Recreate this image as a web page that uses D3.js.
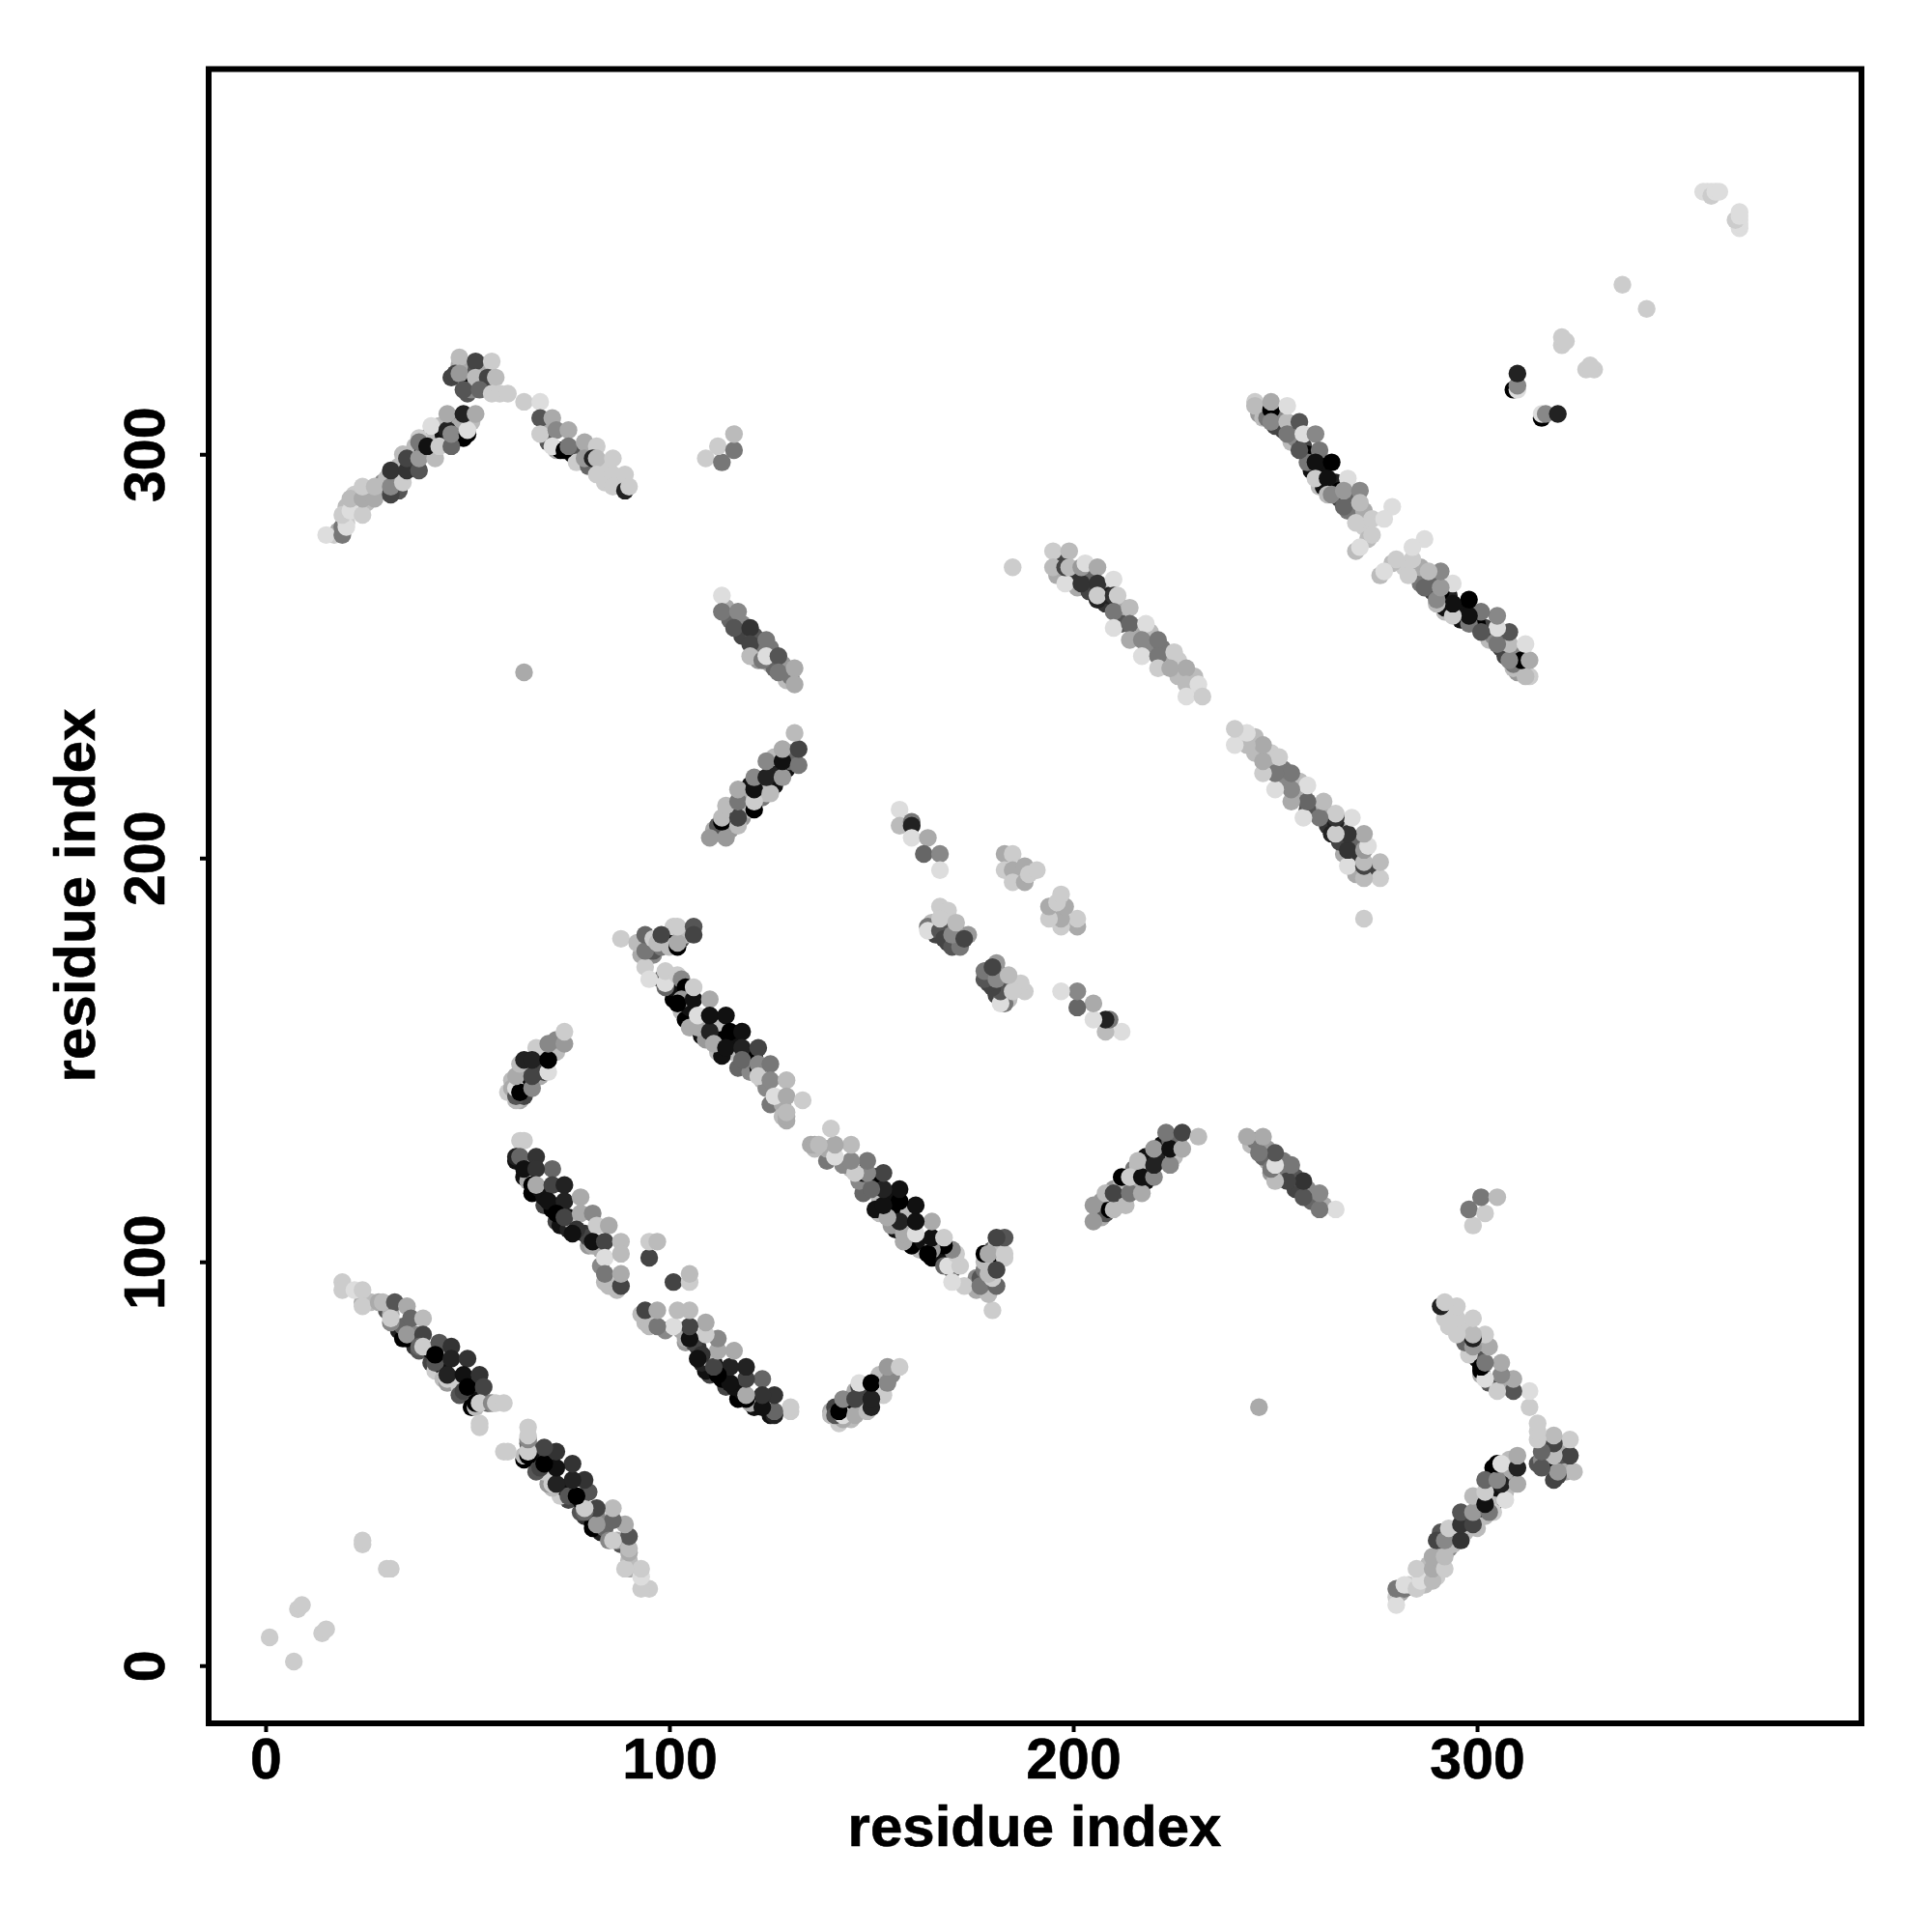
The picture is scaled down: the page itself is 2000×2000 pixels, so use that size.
<!DOCTYPE html>
<html><head><meta charset="utf-8"><script src="https://cdn.jsdelivr.net/npm/d3@7"></script>
<style>html,body{margin:0;background:#fff}</style></head><body><div id="c"></div>
<script>
// contact pairs [residue i, residue j, score 0-13]; the map is symmetric, each pair shows at (i,j) and (j,i)
const nearDiagonal=[[1,7,1],[8,14,1],[9,15,1],[24,30,1],[24,31,1],[321,327,1],[321,329,1],[322,328,1],[336,342,1],[356,365,0],[357,365,0],[358,365,0],[358,364,1],[359,365,0],[360,365,0]];
const strayPairs=[[64,246,3],[185,272,1]];
// partly hidden pairs that only show as rims behind the front dots
const hiddenA=[[24,90,3],[26,90,2],[30,88,8],[31,87,3],[33,83,11],[34,81,13],[34,84,7],[37,79,10],[37,82,5],[38,78,8],[41,75,9],[41,78,12],[42,73,1],[44,74,12],[44,71,2],[45,70,4],[48,71,9],[48,69,1],[48,67,8],[52,68,12],[52,70,9],[51,64,13],[52,64,2],[55,65,7]];
const hiddenC=[[62,125,12],[64,121,12],[65,120,3],[66,117,13],[68,118,12],[69,114,9],[69,116,12],[71,113,13],[72,110,9],[73,109,12],[75,108,11],[75,111,12],[76,110,2],[79,107,10],[80,104,4],[80,106,9],[83,103,3],[83,99,5],[85,94,2]];
const hiddenE=[[98,170,8],[101,165,13],[101,168,12],[103,162,2],[104,160,13],[105,163,12],[105,158,3],[108,156,12],[109,159,12],[109,155,4],[112,159,2],[112,152,2],[113,155,13],[116,152,2],[113,151,12],[116,155,12],[117,148,7],[120,147,5],[121,151,13],[123,145,2],[124,143,5],[125,139,6],[128,139,3],[128,136,2],[129,135,3]];
const hiddenF=[[95,178,5],[93,176,3],[96,176,5],[96,177,8],[98,178,6],[100,180,13],[100,178,2],[101,183,1],[103,180,8],[104,181,2]];
const hiddenD=[[63,140,3],[62,140,2],[64,141,9],[65,144,5],[64,145,12],[65,148,7],[68,146,3],[68,150,12],[69,147,9],[72,152,2],[72,155,5],[61,145,2]];
const hiddenG=[[111,207,3],[113,206,2],[112,208,8],[114,209,12],[115,207,4],[115,211,9],[116,212,13],[118,210,4],[119,213,13],[120,212,2],[120,218,12],[122,216,13],[122,218,5],[123,215,6],[126,218,12],[126,221,11],[126,225,2],[129,222,12],[130,226,4],[130,224,7],[118,215,3],[124,216,2]];
const hiddenH=[[114,262,3],[115,259,7],[118,258,5],[118,255,9],[121,255,8],[122,251,6],[125,252,6],[125,248,3],[128,248,4],[129,244,2],[130,245,6],[126,247,7],[122,249,4]];
const hiddenJ=[[166,181,9],[168,184,4],[169,182,7],[171,180,6],[172,181,8],[174,181,4],[165,184,2]];
const hiddenK=[[246,310,4],[247,309,2],[248,309,6],[250,307,9],[251,310,5],[252,306,9],[254,303,2],[255,304,5],[257,302,9],[258,300,13],[259,296,12],[261,296,10],[262,297,12],[258,298,6],[261,292,2],[262,292,12],[265,293,11],[266,289,9],[269,289,7],[266,291,13],[268,286,6],[272,286,3],[272,282,1],[273,279,2],[270,276,2]];
const hiddenN=[[196,270,3],[197,273,9],[199,270,6],[200,270,10],[201,267,3],[204,270,7],[204,266,9],[207,267,4],[208,266,2],[208,263,10],[209,265,11],[212,262,3],[212,258,8],[215,255,9],[216,257,3],[219,253,5],[219,256,2],[222,252,6],[223,248,3],[226,249,1],[226,245,2],[230,245,2],[229,242,1]];
const hiddenP=[[70,306,3],[70,303,8],[72,301,3],[73,301,13],[76,300,12],[77,300,8],[77,298,1],[80,301,3],[80,297,7],[83,297,1],[84,293,1],[88,293,1]];
const hiddenL=[[17,280,1],[18,281,3],[19,282,6],[20,283,1],[20,287,2],[22,290,1],[25,288,2],[28,291,2],[29,293,5],[30,294,2],[33,291,8],[33,294,8],[33,297,2],[36,298,8],[37,300,3],[37,302,2],[39,301,13],[40,304,12],[41,303,7],[42,303,12],[42,305,2],[43,307,2],[44,303,4],[44,305,12],[47,307,9],[47,304,13],[48,307,3],[49,304,13],[51,308,2],[46,319,9],[50,321,8],[50,318,13],[54,321,4],[54,322,3],[55,317,9],[50,315,8],[51,316,5],[48,322,3]];
const blockA=[[19,95,1],[19,93,1],[22,93,0],[24,93,1],[24,89,1],[28,90,3],[29,90,2],[32,90,8],[35,89,3],[31,85,5],[31,86,1],[36,86,7],[39,86,2],[35,81,13],[35,82,4],[39,82,9],[38,79,7],[39,79,1],[43,80,8],[46,79,10],[42,75,8],[42,77,13],[46,76,11],[45,71,1],[45,72,11],[50,76,10],[49,72,12],[49,68,9],[50,69,13],[53,72,10],[54,69,9],[52,65,13],[53,65,1],[56,65,5],[57,65,1],[59,65,1],[53,60,1],[53,59,1]];
const blockC=[[63,130,1],[64,130,1],[62,126,11],[63,126,7],[67,126,10],[71,123,7],[64,123,12],[67,123,10],[66,119,13],[67,119,3],[71,119,9],[74,119,11],[70,115,12],[74,115,11],[78,116,3],[72,112,13],[74,111,9],[78,112,3],[81,112,5],[77,108,10],[76,107,12],[82,109,1],[85,109,3],[81,104,3],[81,105,12],[84,105,9],[88,105,2],[84,101,0],[88,102,2],[84,95,2],[84,97,6],[87,93,2],[88,94,9],[88,97,3],[95,101,9],[95,105,1],[97,105,2]];
const blockD=[[60,142,1],[61,143,3],[62,141,8],[62,143,0],[63,142,13],[62,146,3],[63,149,2],[64,150,11],[66,143,5],[66,146,9],[67,153,1],[66,150,11],[70,147,0],[70,150,13],[70,154,5],[74,154,4],[74,157,1]];
const blockE=[[94,173,1],[95,170,0],[99,168,7],[99,169,0],[99,172,1],[102,171,1],[103,170,5],[104,168,13],[103,165,4],[102,164,13],[106,165,12],[106,168,1],[110,165,3],[107,158,3],[107,161,0],[110,157,11],[111,154,3],[110,161,12],[114,161,12],[115,157,13],[114,153,12],[118,157,12],[118,153,11],[122,153,9],[118,150,7],[122,148,12],[122,149,5],[122,146,1],[125,149,6],[125,145,5],[129,145,2],[126,141,0],[129,141,3],[133,140,1],[129,136,3],[129,137,2]];
const blockF=[[88,180,1],[92,179,2],[94,177,6],[94,181,7],[96,180,1],[97,179,2],[98,181,9],[102,178,13],[102,179,3],[102,183,1],[106,183,8],[106,181,9]];
const blockG=[[110,205,4],[114,205,4],[113,209,13],[113,210,2],[117,208,2],[117,210,9],[114,213,2],[117,214,6],[117,217,3],[121,212,13],[121,214,1],[121,217,12],[121,220,5],[125,216,2],[124,220,11],[124,224,5],[128,220,4],[128,224,12],[128,227,3],[132,223,6],[132,227,9],[131,231,2]];
const blockH=[[113,265,0],[113,261,6],[117,261,5],[116,257,8],[120,257,10],[120,253,9],[124,254,6],[120,250,2],[123,249,6],[124,250,0],[127,250,8],[127,246,6],[131,247,3],[131,243,3]];
const blockI=[[157,212,0],[157,208,2],[160,209,6],[160,208,11],[160,205,0],[164,205,3],[163,201,7],[167,201,5],[167,197,0]];
const blockJ=[[164,183,6],[164,182,0],[167,182,8],[168,180,9],[169,179,9],[170,178,8],[172,178,6],[167,188,1],[169,187,1],[167,185,1],[170,181,5],[173,180,9],[171,184,2]];
const blockM=[[183,201,3],[185,201,1],[183,197,1],[185,197,3],[185,194,1],[188,198,3],[188,194,3],[189,196,1],[191,197,1]];
const blockN=[[195,276,1],[195,272,2],[199,276,2],[198,268,0],[198,272,9],[199,272,2],[202,268,10],[202,272,4],[203,273,0],[206,272,3],[206,268,10],[206,264,11],[206,265,1],[210,269,0],[210,265,10],[211,265,1],[210,261,6],[214,262,2],[210,257,0],[214,258,7],[218,258,0],[214,254,3],[217,254,5],[221,254,6],[217,250,0],[221,250,6],[225,251,1],[221,247,1],[224,247,3],[228,247,3],[228,243,2],[231,243,0],[228,240,0],[232,240,1]];
const blockK=[[245,313,1],[245,312,2],[249,311,13],[249,308,5],[249,313,3],[253,308,2],[253,305,6],[253,312,0],[256,308,8],[257,305,0],[256,301,8],[260,305,5],[261,301,6],[260,298,12],[264,298,13],[260,294,1],[263,294,12],[263,290,2],[264,290,5],[268,294,0],[267,287,7],[267,291,4],[271,291,5],[271,288,2],[270,283,1],[274,284,1],[279,287,0],[277,284,0],[274,280,1],[271,277,0]];
const blockL=[[15,280,0],[19,280,6],[20,282,0],[19,285,1],[21,286,0],[24,285,1],[21,289,2],[24,289,3],[27,289,3],[24,292,1],[27,292,2],[31,290,9],[31,292,5],[34,293,1],[31,296,10],[35,296,10],[38,296,8],[34,300,2],[35,299,9],[38,299,4],[42,299,2],[38,304,1],[38,303,6],[40,302,12],[43,302,1],[46,302,7],[41,307,0],[45,306,11],[46,305,5],[50,305,13],[50,306,0],[45,310,3],[49,310,11],[52,310,3],[48,324,2],[52,323,9],[56,323,1],[47,320,9],[48,320,4],[52,319,2],[55,319,9],[57,319,2],[49,316,8],[53,316,7],[56,315,1],[58,315,1],[60,315,1],[64,313,1],[68,313,0]];
const blockP=[[68,309,8],[71,309,3],[68,305,1],[72,306,5],[75,306,3],[71,302,0],[74,301,13],[75,302,6],[79,303,3],[82,302,1],[79,299,4],[81,299,11],[82,299,2],[86,299,1],[82,295,1],[86,295,1],[89,295,1],[86,292,1],[89,291,11],[90,292,1]];
const blockQ=[[109,299,1],[113,298,6],[112,302,1],[116,301,6],[116,305,2]];
const blockR=[[309,316,13],[310,316,0],[310,317,5],[310,320,11]];
const contacts=[hiddenA,hiddenC,hiddenD,hiddenE,hiddenF,hiddenG,hiddenH,hiddenJ,hiddenK,hiddenL,hiddenN,hiddenP,blockL,blockP,nearDiagonal,strayPairs,blockA,blockC,blockD,blockE,blockF,blockG,blockH,blockI,blockJ,blockM,blockN,blockK,blockQ,blockR].flat();

const tickValues=[0,100,200,300];
const axisTitle="residue index";

const W=2000,H=2000;
const x=d3.scaleLinear().domain([-14.1,395.2]).range([216,1927]);
const y=d3.scaleLinear().domain([-14.3,395.4]).range([1784,71.5]);
const gray=d3.scaleLinear().domain([0,13]).range(["#dddddd","#000000"]);
const svg=d3.select("#c").append("svg").attr("width",W).attr("height",H).style("display","block");
const font='"Liberation Sans",Arial,sans-serif';

svg.append("g").selectAll("g").data(contacts).join("g").each(function(d){
  const g=d3.select(this);
  [[d[0],d[1]],[d[1],d[0]]].forEach(p=>{
    g.append("circle").attr("cx",x(p[0])).attr("cy",y(p[1])).attr("r",9.2).attr("fill",gray(d[2]));
  });
});

svg.append("rect").attr("x",216).attr("y",71.5).attr("width",1711).attr("height",1712.5)
  .attr("fill","none").attr("stroke","#000").attr("stroke-width",6);

const ax=svg.append("g").attr("transform","translate(0,1784)").call(d3.axisBottom(x).tickValues(tickValues).tickSize(9).tickSizeOuter(0));
const ay=svg.append("g").attr("transform","translate(216,0)").call(d3.axisLeft(y).tickValues(tickValues).tickSize(9).tickSizeOuter(0));
[ax,ay].forEach(a=>{
  a.select(".domain").remove();
  a.selectAll("line").attr("stroke","#000").attr("stroke-width",4);
  a.selectAll("text").attr("font-family",font).attr("font-weight","bold").attr("font-size",59).attr("fill","#000").attr("stroke","#000").attr("stroke-width",0.6);
});
ax.selectAll("text").attr("y",0).attr("dy",0).attr("text-anchor","middle").attr("transform","translate(0,57)");
ay.selectAll("text").attr("x",0).attr("dy",0).attr("text-anchor","middle").attr("transform","translate(-46,0) rotate(-90)");
svg.append("text").attr("x",1071).attr("y",1911).attr("text-anchor","middle").attr("font-family",font).attr("font-weight","bold").attr("font-size",60).attr("stroke","#000").attr("stroke-width",0.6).text(axisTitle);
svg.append("text").attr("transform","translate(98,927) rotate(-90)").attr("text-anchor","middle").attr("font-family",font).attr("font-weight","bold").attr("font-size",60).attr("stroke","#000").attr("stroke-width",0.6).text(axisTitle);
</script></body></html>
